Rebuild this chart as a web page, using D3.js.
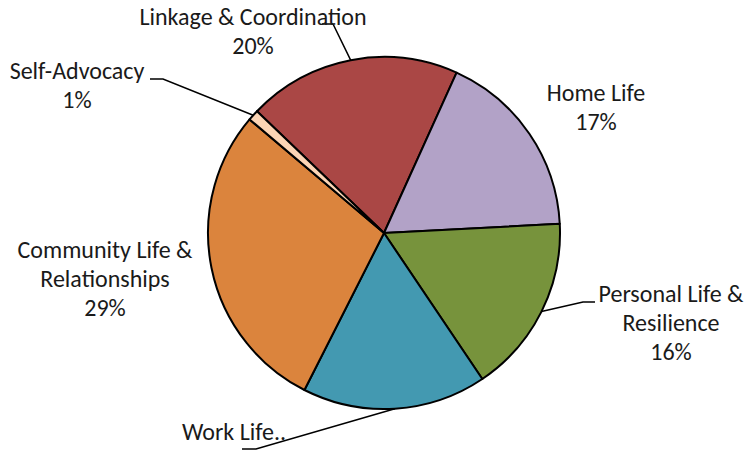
<!DOCTYPE html>
<html>
<head>
<meta charset="utf-8">
<script src="https://cdn.jsdelivr.net/npm/d3@7"></script>
<style>
  html, body { margin: 0; padding: 0; background: #fff; }
  svg { display: block; }
</style>
</head>
<body>
<div id="chart"></div>
<script>
// ── Data ─────────────────────────────────────
const CATEGORIES = ["Linkage & Coordination", "Home Life", "Personal Life & Resilience",
                    "Work Life", "Community Life & Relationships", "Self-Advocacy"];
const VALUES     = [19.6, 17.4, 16.4, 16.9, 28.7, 1.0];
const PCT_LABELS = ["20%", "17%", "16%", "17%", "29%", "1%"];
const COLORS     = ["#AA4745", "#B2A2C7", "#77933C", "#4399B1", "#DB843D", "#FCD5B5"];

const W = 748, H = 451;
const cx = 384, cy = 233, R = 176;
const FONT = "Carlito, 'Open Sans', sans-serif";

const svg = d3.select("#chart").append("svg").attr("width", W).attr("height", H);
const g = svg.append("g").attr("transform", `translate(${cx},${cy})`);

const startA = -46.2 * Math.PI / 180;
const pie = d3.pie().sort(null).value(d => d.v)
  .startAngle(startA).endAngle(startA + 2 * Math.PI);
const arc = d3.arc().innerRadius(0).outerRadius(R);

const data = CATEGORIES.map((c, i) => ({ c, v: VALUES[i], p: PCT_LABELS[i], col: COLORS[i] }));
const arcs = pie(data);

g.selectAll("path.slice").data(arcs).join("path")
  .attr("class", "slice")
  .attr("d", arc)
  .attr("fill", d => d.data.col)
  .attr("stroke", "#000").attr("stroke-width", 2).attr("stroke-linejoin", "round");

// ── Labels (Excel-style, placed by hand around the pie) ──
const labels = [
  { lines: ["Linkage & Coordination", "20%"], x: 253, y: 25 },
  { lines: ["Home Life", "17%"], x: 596, y: 101 },
  { lines: ["Personal Life &", "Resilience", "16%"], x: 671, y: 302 },
  { lines: ["Work Life.."], x: 182, y: 440, anchor: "start" },
  { lines: ["Community Life &", "Relationships", "29%"], x: 105, y: 258 },
  { lines: ["Self-Advocacy", "1%"], x: 77, y: 79 }
];
const LH = 29;

// leader lines: from label side to the middle of the slice's outer edge
function edgePoint(i) {
  const a = (arcs[i].startAngle + arcs[i].endAngle) / 2;
  return [cx + R * Math.sin(a), cy - R * Math.cos(a)];
}
const leaders = [
  { i: 0, pts: [[322, 24], [333, 24]] },
  { i: 5, pts: [[150, 79], [163, 79]] },
  { i: 2, pts: [[595, 302], [583, 302]] },
  { i: 3, pts: [[242, 449], [256, 449]] }
];
leaders.forEach(l => {
  const p = l.pts.concat([edgePoint(l.i)]);
  svg.append("path")
    .attr("d", d3.line()(p))
    .attr("fill", "none").attr("stroke", "#000").attr("stroke-width", 1.5);
});

labels.forEach(l => {
  const t = svg.append("text")
    .attr("x", l.x).attr("y", l.y)
    .attr("text-anchor", l.anchor || "middle")
    .attr("font-family", FONT).attr("font-size", "24px").attr("fill", "#1a1a1a");
  l.lines.forEach((s, k) => {
    t.append("tspan").attr("x", l.x).attr("dy", k === 0 ? 0 : LH).text(s);
  });
});
</script>
</body>
</html>
